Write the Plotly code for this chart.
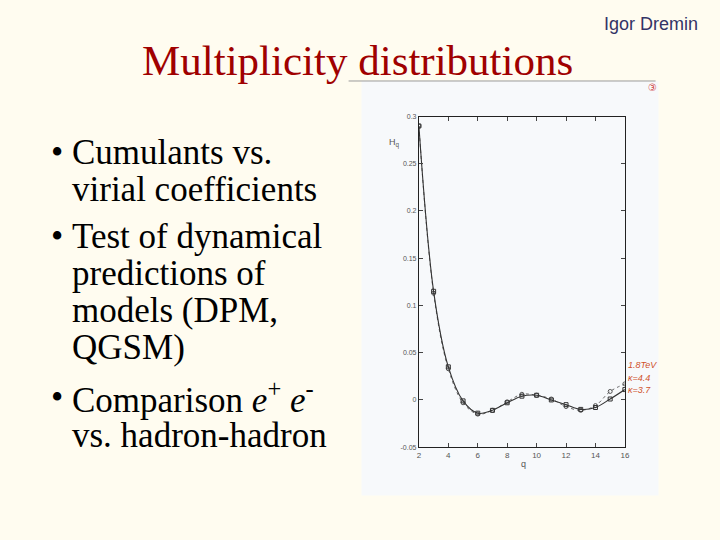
import plotly.graph_objects as go

q = [2, 3, 4, 5, 6, 7, 8, 9, 10, 11, 12, 13, 14, 15, 16]
hq_solid = [0.290, 0.115, 0.035, -0.001, -0.014, -0.011, -0.003, 0.004, 0.005, 0.000, -0.005, -0.010, -0.008, 0.001, 0.011]
hq_dotted = [0.290, 0.113, 0.033, -0.003, -0.015, -0.011, -0.002, 0.006, 0.005, 0.001, -0.007, -0.011, -0.006, 0.009, 0.017]
x_ticks = [2, 4, 6, 8, 10, 12, 14, 16]
y_ticks = [-0.05, 0, 0.05, 0.1, 0.15, 0.2, 0.25, 0.3]
y_tick_text = ["-0.05", "0", "0.05", "0.1", "0.15", "0.2", "0.25", "0.3"]

title = "Multiplicity distributions"
bullet_lines = [
    ("•", "Cumulants vs."),
    ("", "virial coefficients"),
    ("•", "Test of dynamical"),
    ("", "predictions of"),
    ("", "models (DPM,"),
    ("", "QGSM)"),
    ("•", "Comparison <i>e</i><sup>+</sup> <i>e</i><sup>-</sup>"),
    ("", "vs. hadron-hadron"),
]
bullet_y = [150, 188, 236, 273, 311, 348, 399, 437]
hand_labels = ["1.8TeV", "κ=4.4", "κ=3.7"]

W, H = 720, 540
def px(x):
    return x / W
def py(y):
    return 1 - y / H

fig = go.Figure()
fig.add_trace(go.Scatter(
    x=q, y=hq_dotted, mode="lines+markers", line=dict(color="#666666", width=1, dash="dot", shape="spline"),
    marker=dict(symbol="circle-open", size=4, color="#555555", line=dict(width=1)), showlegend=False))
fig.add_trace(go.Scatter(
    x=q, y=hq_solid, mode="lines+markers", line=dict(color="#333333", width=1.1, shape="spline"),
    marker=dict(symbol="square-open", size=4, color="#333333", line=dict(width=1)), showlegend=False))

shapes = [
    dict(type="rect", xref="paper", yref="paper", x0=px(363), x1=px(663), y0=py(498), y1=py(78),
         fillcolor="#f7f9fb", line=dict(width=0), layer="below"),
    dict(type="line", xref="paper", yref="paper", x0=px(350), x1=px(660), y0=py(78), y1=py(78),
         line=dict(color="#9a9a9a", width=1)),
]

annotations = [
    dict(text=title, x=px(359), y=py(57), xref="paper", yref="paper", showarrow=False,
         xanchor="center", yanchor="middle", font=dict(family="Liberation Serif", size=43, color="#a00000")),
    dict(text="Igor Dremin", x=px(655), y=py(20), xref="paper", yref="paper", showarrow=False,
         xanchor="center", yanchor="middle", font=dict(family="Liberation Sans", size=18, color="#333366")),
    dict(text="H<sub>q</sub>", x=px(396), y=py(141), xref="paper", yref="paper", showarrow=False,
         xanchor="center", yanchor="middle", font=dict(family="Liberation Sans", size=9, color="#555555")),
    dict(text="q", x=px(527), y=py(466), xref="paper", yref="paper", showarrow=False,
         xanchor="center", yanchor="middle", font=dict(family="Liberation Sans", size=9, color="#555555")),
    dict(text="③", x=px(657), y=py(85), xref="paper", yref="paper", showarrow=False,
         xanchor="center", yanchor="middle", font=dict(family="DejaVu Sans", size=10, color="#d04040")),
]
for lab, yy in zip(hand_labels, [366, 379, 391]):
    annotations.append(dict(text="<i>" + lab + "</i>", x=px(630), y=py(yy), xref="paper", yref="paper",
                            showarrow=False, xanchor="left", yanchor="middle",
                            font=dict(family="Liberation Sans", size=9, color="#d0502a")))
for (b, txt), yy in zip(bullet_lines, bullet_y):
    if b:
        annotations.append(dict(text=b, x=px(47), y=py(yy), xref="paper", yref="paper", showarrow=False,
                                xanchor="left", yanchor="middle",
                                font=dict(family="Liberation Serif", size=35, color="#000000")))
    annotations.append(dict(text=txt, x=px(69), y=py(yy), xref="paper", yref="paper", showarrow=False,
                            xanchor="left", yanchor="middle",
                            font=dict(family="Liberation Serif", size=35, color="#000000")))

fig.update_layout(
    width=W, height=H, margin=dict(l=0, r=0, t=0, b=0),
    paper_bgcolor="#fffcf0", plot_bgcolor="#ffffff",
    shapes=shapes, annotations=annotations,
    xaxis=dict(domain=[px(421), px(629)], range=[2, 16], tickvals=x_ticks, ticks="inside", ticklen=4,
               showline=True, linecolor="#222222", linewidth=1, mirror="ticks", showgrid=False, zeroline=False,
               tickfont=dict(family="Liberation Sans", size=8, color="#555555")),
    yaxis=dict(domain=[py(449), py(114)], range=[-0.05, 0.3], tickvals=y_ticks, ticktext=y_tick_text,
               ticks="inside", ticklen=4, showline=True, linecolor="#222222", linewidth=1, mirror="ticks",
               showgrid=False, zeroline=False,
               tickfont=dict(family="Liberation Sans", size=7, color="#555555")),
)
fig.write_html("out.html", config={"displayModeBar": False},
               post_script="document.body.style.margin='0';document.body.style.overflow='hidden';")
